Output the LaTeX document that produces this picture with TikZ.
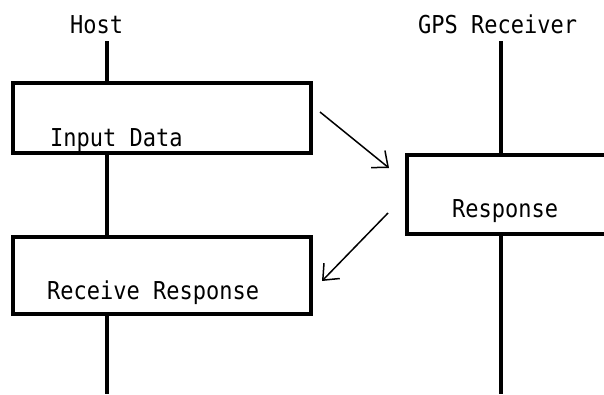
\documentclass[tikz,border=0pt]{standalone}
\usepackage{graphicx}
\usepackage{fontspec}
\setmonofont{DejaVu Sans Mono}
\usetikzlibrary{arrows.meta}
\newcommand\talltext[1]{\scalebox{1}[1.12]{#1}}
\begin{document}
\begin{tikzpicture}[x=1pt,y=-1pt,
  boxstyle/.style={draw, line width=4.5pt, rectangle, inner sep=0pt, fill=white},
  lifeline/.style={line width=4.5pt},
  txt/.style={anchor=base west, inner sep=0pt, font=\ttfamily\fontsize{22}{26}\selectfont},
  msg/.style={line width=1.5pt, -{Straight Barb[length=13pt,width=22pt,line width=1.5pt]}}]
\useasboundingbox (0,0) rectangle (604,394);
\clip (0,0) rectangle (604,394);
% boxes
\node[boxstyle, minimum width=298pt, minimum height=70pt] (b1) at (162,118) {};
\node[boxstyle, minimum width=212pt, minimum height=79pt] (b2) at (513,194.5) {};
\node[boxstyle, minimum width=298pt, minimum height=77pt] (b3) at (162,275.5) {};
% lifeline ends
\coordinate (htop) at (107,41);
\coordinate (hbot) at (107,394);
\coordinate (gtop) at (501,41);
\coordinate (gbot) at (501,394);
\draw[lifeline] (htop) -- (htop |- b1.north);
\draw[lifeline] (htop |- b1.south) -- (htop |- b3.north);
\draw[lifeline] (htop |- b3.south) -- (hbot);
\draw[lifeline] (gtop) -- (gtop |- b2.north);
\draw[lifeline] (gtop |- b2.south) -- (gbot);
% texts
\node[txt] (thost) at (70,33) {\talltext{Host}};
\node[txt] (tgps) at (418,33) {\talltext{GPS Receiver}};
\node[txt] (tin) at (50,146) {\talltext{Input Data}};
\node[txt] (tresp) at (452,217) {\talltext{Response}};
\node[txt] (trec) at (47,299) {\talltext{Receive Response}};
% messages
\coordinate (m1s) at (320,112);
\coordinate (m1e) at (389,168);
\coordinate (m2s) at (388,213);
\coordinate (m2e) at (322,281);
\draw[msg] (m1s) -- (m1e);
\draw[msg] (m2s) -- (m2e);
\end{tikzpicture}
\end{document}
